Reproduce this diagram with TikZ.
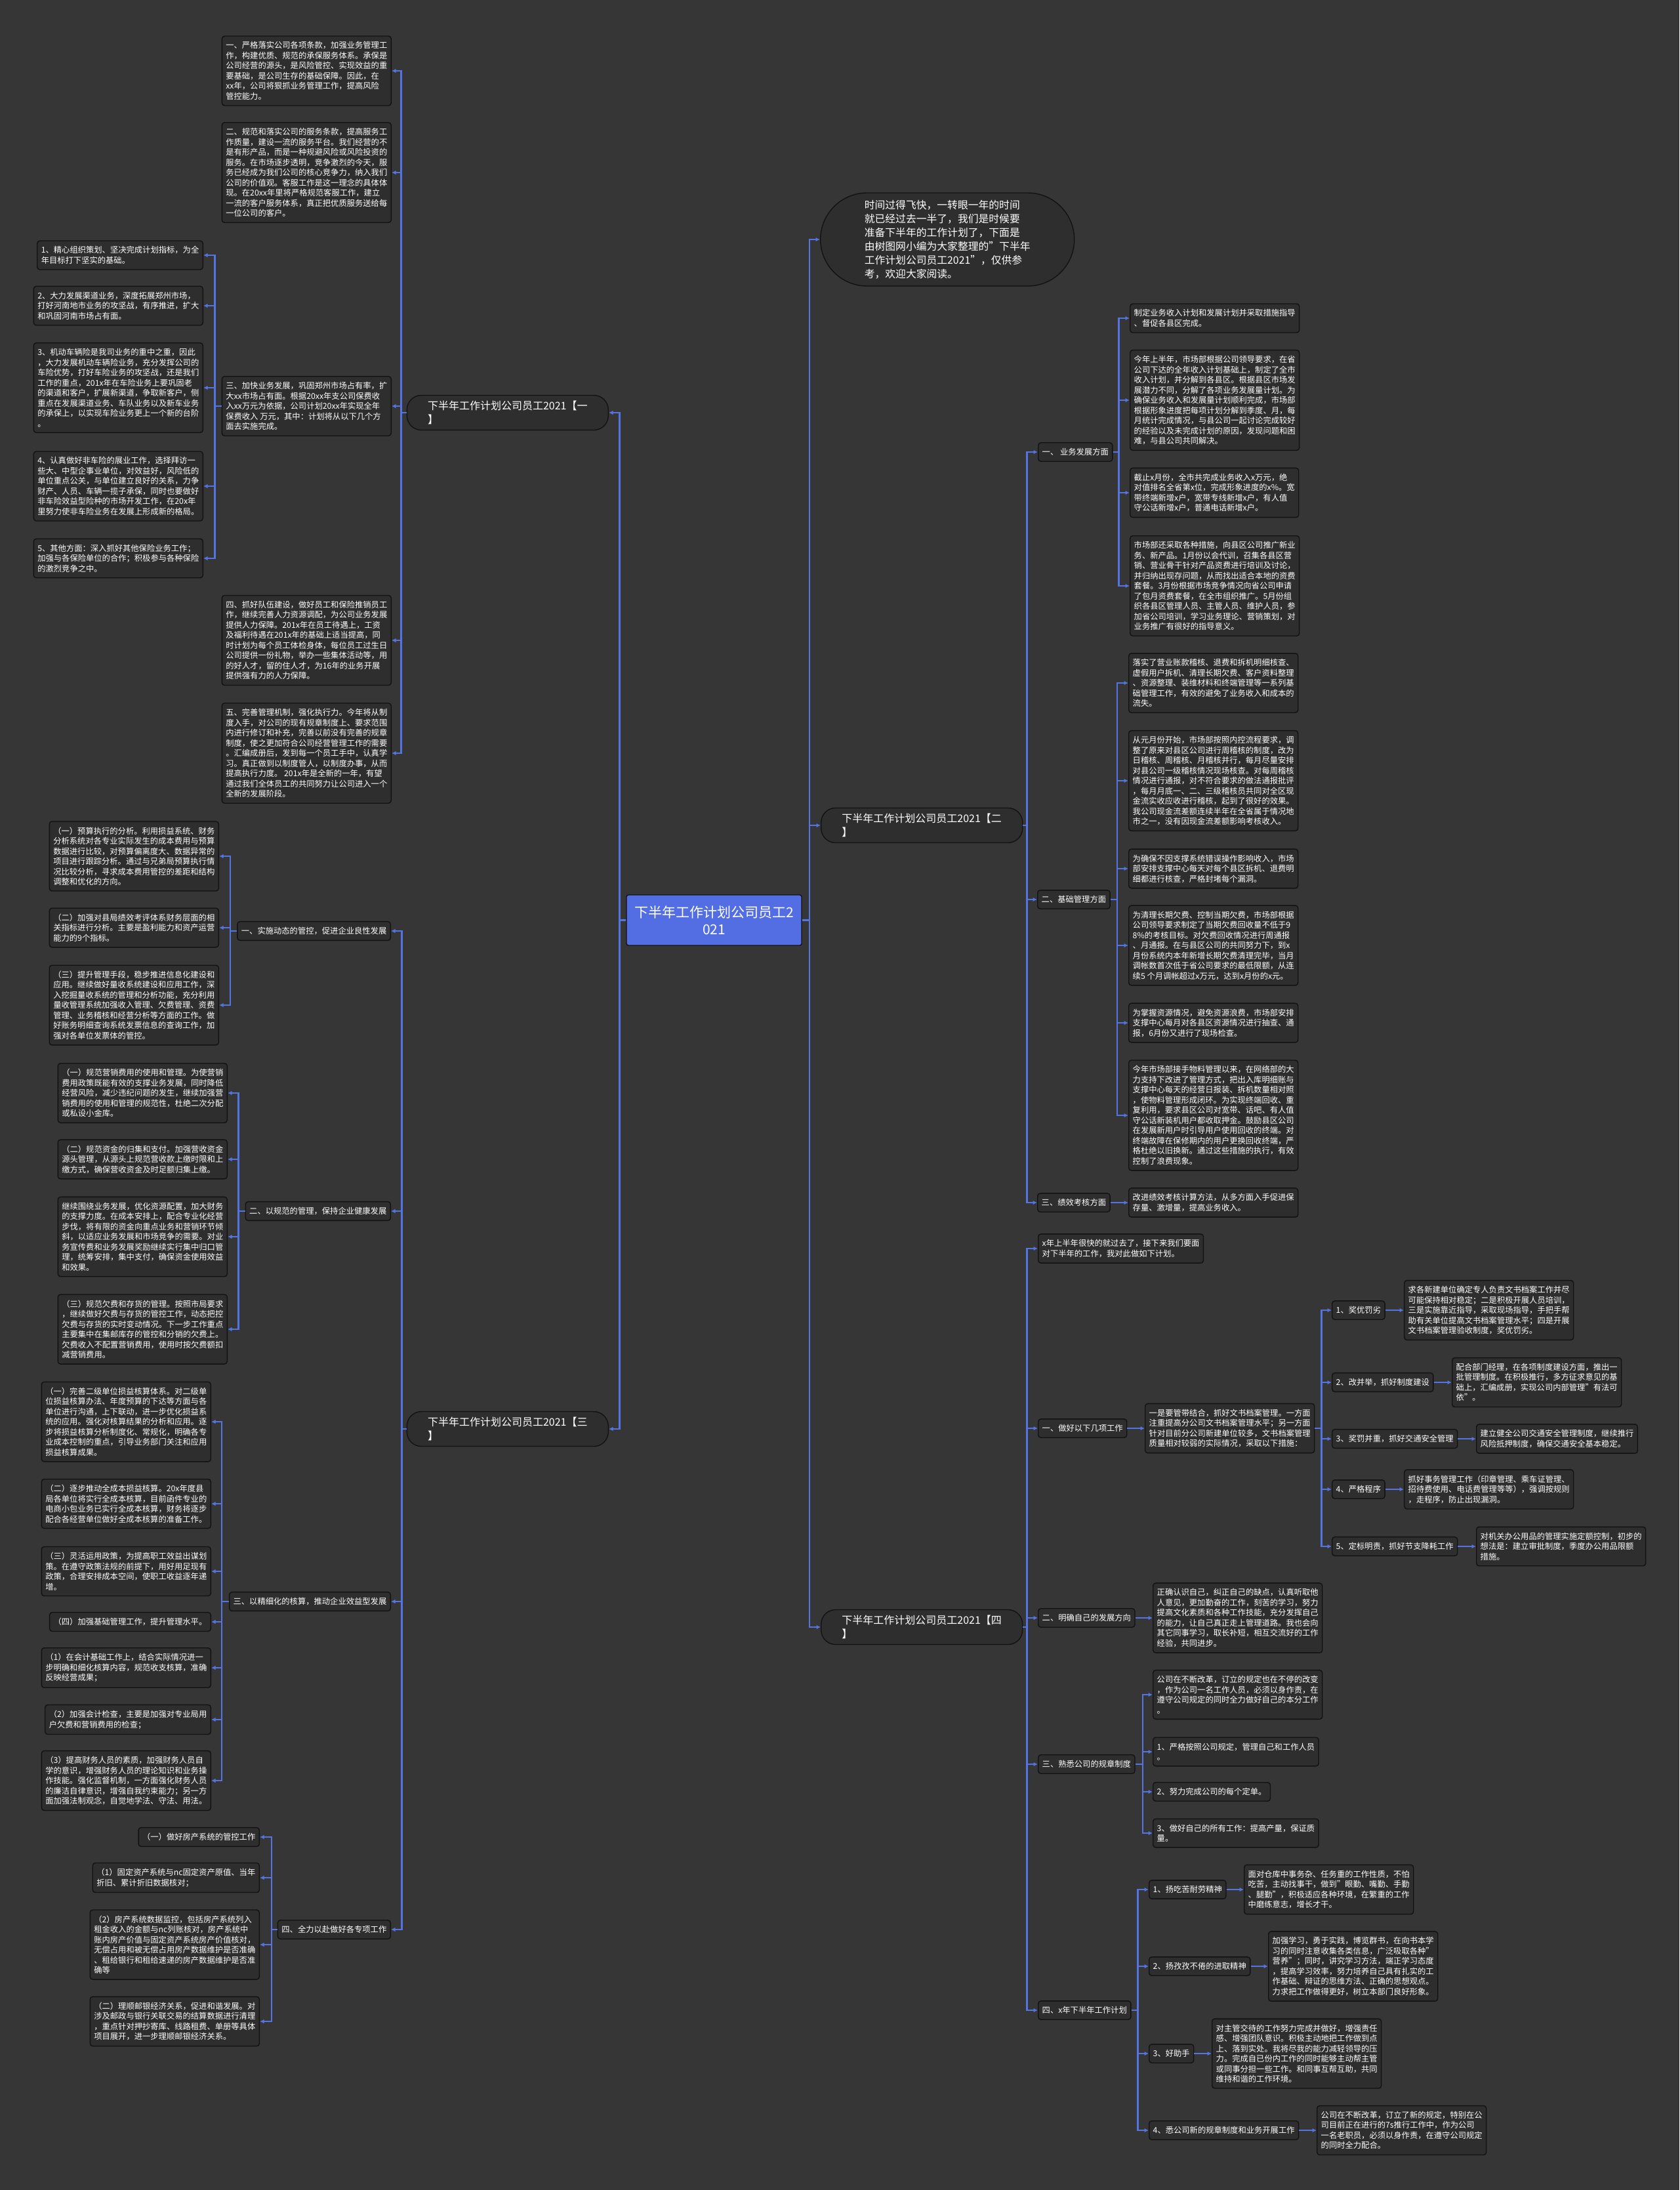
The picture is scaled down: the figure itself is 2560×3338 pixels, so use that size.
\documentclass[tikz,border=0pt]{standalone}
\usepackage{fontspec}
\setmainfont{Noto Sans CJK SC}
\usetikzlibrary{arrows.meta, positioning}

\definecolor{bgdark}{RGB}{54,54,54}
\definecolor{cardfill}{RGB}{46,46,46}
\definecolor{cardline}{RGB}{18,18,18}
\definecolor{linkblue}{RGB}{84,116,226}
\definecolor{hubblue}{RGB}{82,110,226}

\begin{document}
\begin{tikzpicture}[x=1pt, y=-1pt]
    % Define styles for the nodes
    \tikzstyle{card} = [
        rectangle, rounded corners=4pt, draw=cardline, fill=cardfill,
        line width=1.4pt, text=white, align=left,
        inner xsep=6pt, inner ysep=8.5pt,
        font=\fontsize{12.3}{15.5}\selectfont
    ]
    \tikzstyle{branch} = [
        card, rounded corners=22pt, minimum width=307pt, minimum height=53pt,
        font=\fontsize{16}{21}\selectfont
    ]
    \tikzstyle{link} = [line width=2.4pt, draw=linkblue, -{Latex[length=6.5pt,width=6.5pt]}]

    % Canvas
    \fill[bgdark] (0,0) rectangle (2560,3338);
    \useasboundingbox (0,0) rectangle (2560,3338);

    % Hub
    \node[
        rectangle, rounded corners=3pt, draw=cardline, fill=hubblue, line width=1.4pt,
        text=white, align=center, minimum width=267pt, minimum height=77pt,
        font=\fontsize{21}{26}\selectfont
    ] (hub) at (1088.5,1402.5) {下半年工作计划公司员工2\\021};

    % Intro
    \node[
        card, rounded corners=71pt, minimum width=387pt, minimum height=142pt,
        anchor=west, font=\fontsize{15.8}{21}\selectfont
    ] (intro) at (1250,365) {时间过得飞快，一转眼一年的时间\\就已经过去一半了，我们是时候要\\准备下半年的工作计划了，下面是\\由树图网小编为大家整理的"下半年\\工作计划公司员工2021"，仅供参\\考，欢迎大家阅读。};

    % Branch one
    \node[branch, anchor=east] (br1) at (928,629) {下半年工作计划公司员工2021【一\\】};

    \node[card, anchor=east] (a1) at (597,108) {一、严格落实公司各项条款，加强业务管理工\\作，构建优质、规范的承保服务体系。承保是\\公司经营的源头，是风险管控、实现效益的重\\要基础，是公司生存的基础保障。因此，在\\xx年，公司将狠抓业务管理工作，提高风险\\管控能力。};
    \node[card, anchor=east] (a2) at (597,263) {二、规范和落实公司的服务条款，提高服务工\\作质量，建设一流的服务平台。我们经营的不\\是有形产品，而是一种规避风险或风险投资的\\服务。在市场逐步透明，竞争激烈的今天，服\\务已经成为我们公司的核心竞争力，纳入我们\\公司的价值观。客服工作是这一理念的具体体\\现。在20xx年里将严格规范客服工作，建立\\一流的客户服务体系，真正把优质服务送给每\\一位公司的客户。};
    \node[card, anchor=east] (a3) at (597,619) {三、加快业务发展，巩固郑州市场占有率，扩\\大xx市场占有面。根据20xx年支公司保费收\\入xx万元为依据，公司计划20xx年实现全年\\保费收入 万元，其中：计划将从以下几个方\\面去实施完成。};
    \node[card, anchor=east] (a4) at (597,976) {四、抓好队伍建设，做好员工和保险推销员工\\作，继续完善人力资源调配，为公司业务发展\\提供人力保障。201x年在员工待遇上，工资\\及福利待遇在201x年的基础上适当提高，同\\时计划为每个员工体检身体，每位员工过生日\\公司提供一份礼物，举办一些集体活动等，用\\的好人才，留的住人才，为16年的业务开展\\提供强有力的人力保障。};
    \node[card, anchor=east] (a5) at (597,1148) {五、完善管理机制，强化执行力。今年将从制\\度入手，对公司的现有规章制度上、要求范围\\内进行修订和补充，完善以前没有完善的规章\\制度，使之更加符合公司经营管理工作的需要\\。汇编成册后，发到每一个员工手中，认真学\\习。真正做到以制度管人，以制度办事，从而\\提高执行力度。 201x年是全新的一年，有望\\通过我们全体员工的共同努力让公司进入一个\\全新的发展阶段。};

    \node[card, anchor=east] (l1) at (310,389) {1、精心组织策划、坚决完成计划指标，为全\\年目标打下坚实的基础。};
    \node[card, anchor=east] (l2) at (310,466) {2、大力发展渠道业务，深度拓展郑州市场，\\打好河南地市业务的攻坚战，有序推进，扩大\\和巩固河南市场占有面。};
    \node[card, anchor=east] (l3) at (310,591) {3、机动车辆险是我司业务的重中之重，因此\\，大力发展机动车辆险业务，充分发挥公司的\\车险优势，打好车险业务的攻坚战，还是我们\\工作的重点，201x年在车险业务上要巩固老\\的渠道和客户，扩展新渠道，争取新客户，侧\\重点在发展渠道业务、车队业务以及新车业务\\的承保上，以实现车险业务更上一个新的台阶\\。};
    \node[card, anchor=east] (l4) at (310,741) {4、认真做好非车险的展业工作，选择拜访一\\些大、中型企事业单位，对效益好，风险低的\\单位重点公关，与单位建立良好的关系，力争\\财产、人员、车辆一揽子承保，同时也要做好\\非车险效益型险种的市场开发工作，在20x年\\里努力使非车险业务在发展上形成新的格局。};
    \node[card, anchor=east] (l5) at (310,851) {5、其他方面：深入抓好其他保险业务工作；\\加强与各保险单位的合作；积极参与各种保险\\的激烈竞争之中。};

    % Branch three
    \node[branch, anchor=east] (br3) at (928,2178) {下半年工作计划公司员工2021【三\\】};

    \node[card, anchor=east] (b1) at (596,1419) {一、实施动态的管控，促进企业良性发展};
    \node[card, anchor=east] (s1) at (334,1305) {（一）预算执行的分析。利用损益系统、财务\\分析系统对各专业实际发生的成本费用与预算\\数据进行比较，对预算偏离度大、数据异常的\\项目进行跟踪分析。通过与兄弟局预算执行情\\况比较分析，寻求成本费用管控的差距和结构\\调整和优化的方向。};
    \node[card, anchor=east] (s2) at (334,1414) {（二）加强对县局绩效考评体系财务层面的相\\关指标进行分析。主要是盈利能力和资产运营\\能力的9个指标。};
    \node[card, anchor=east] (s3) at (334,1532) {（三）提升管理手段，稳步推进信息化建设和\\应用。继续做好量收系统建设和应用工作，深\\入挖掘量收系统的管理和分析功能，充分利用\\量收管理系统加强收入管理、欠费管理、资费\\管理、业务稽核和经营分析等方面的工作。做\\好账务明细查询系统发票信息的查询工作，加\\强对各单位发票体的管控。};

    \node[card, anchor=east] (b2) at (596,1846) {二、以规范的管理，保持企业健康发展};
    \node[card, anchor=east] (t1) at (347,1666) {（一）规范营销费用的使用和管理。为使营销\\费用政策既能有效的支撑业务发展，同时降低\\经营风险，减少违纪问题的发生，继续加强营\\销费用的使用和管理的规范性，杜绝二次分配\\或私设小金库。};
    \node[card, anchor=east] (t2) at (347,1767) {（二）规范资金的归集和支付。加强营收资金\\源头管理，从源头上规范营收款上缴时限和上\\缴方式，确保营收资金及时足额归集上缴。};
    \node[card, anchor=east] (t3) at (347,1885) {继续围绕业务发展，优化资源配置，加大财务\\的支撑力度。在成本安排上，配合专业化经营\\步伐，将有限的资金向重点业务和营销环节倾\\斜，以适应业务发展和市场竞争的需要。对业\\务宣传费和业务发展奖励继续实行集中归口管\\理，统筹安排，集中支付，确保资金使用效益\\和效果。};
    \node[card, anchor=east] (t4) at (347,2026) {（三）规范欠费和存货的管理。按照市局要求\\，继续做好欠费与存货的管控工作，动态把控\\欠费与存货的实时变动情况。下一步工作重点\\主要集中在集邮库存的管控和分销的欠费上。\\欠费收入不配置营销费用，使用时按欠费额扣\\减营销费用。};

    \node[card, anchor=east] (b3) at (596,2441) {三、以精细化的核算，推动企业效益型发展};
    \node[card, anchor=east] (u1) at (322,2167) {（一）完善二级单位损益核算体系。对二级单\\位损益核算办法、年度预算的下达等方面与各\\单位进行沟通，上下联动，进一步优化损益系\\统的应用。强化对核算结果的分析和应用。逐\\步将损益核算分析制度化、常规化，明确各专\\业成本控制的重点，引导业务部门关注和应用\\损益核算成果。};
    \node[card, anchor=east] (u2) at (322,2292) {（二）逐步推动全成本损益核算。20x年度县\\局各单位将实行全成本核算，目前函件专业的\\电商小包业务已实行全成本核算，财务将逐步\\配合各经营单位做好全成本核算的准备工作。};
    \node[card, anchor=east] (u3) at (322,2395) {（三）灵活运用政策，为提高职工效益出谋划\\策。在遵守政策法规的前提下，用好用足现有\\政策，合理安排成本空间，使职工收益逐年递\\增。};
    \node[card, anchor=east] (u4) at (322,2472) {（四）加强基础管理工作，提升管理水平。};
    \node[card, anchor=east] (u5) at (322,2542) {（1）在会计基础工作上，结合实际情况进一\\步明确和细化核算内容，规范收支核算，准确\\反映经营成果；};
    \node[card, anchor=east] (u6) at (322,2621) {（2）加强会计检查，主要是加强对专业局用\\户欠费和营销费用的检查；};
    \node[card, anchor=east] (u7) at (322,2714) {（3）提高财务人员的素质，加强财务人员自\\学的意识，增强财务人员的理论知识和业务操\\作技能。强化监督机制，一方面强化财务人员\\的廉洁自律意识，增强自我约束能力；另一方\\面加强法制观念，自觉地学法、守法、用法。};

    \node[card, anchor=east] (b4) at (596,2941) {四、全力以赴做好各专项工作};
    \node[card, anchor=east] (v1) at (396,2800) {（一）做好房产系统的管控工作};
    \node[card, anchor=east] (v2) at (396,2862) {（1）固定资产系统与nc固定资产原值、当年\\折旧、累计折旧数据核对；};
    \node[card, anchor=east] (v3) at (396,2964) {（2）房产系统数据监控，包括房产系统列入\\租金收入的金额与nc列账核对，房产系统中\\账内房产价值与固定资产系统房产价值核对，\\无偿占用和被无偿占用房产数据维护是否准确\\、租给银行和租给速递的房产数据维护是否准\\确等};
    \node[card, anchor=east] (v4) at (396,3081) {（二）理顺邮银经济关系，促进和谐发展。对\\涉及邮政与银行关联交易的结算数据进行清理\\，重点针对押抄寄库、线路租费、单册等具体\\项目展开，进一步理顺邮银经济关系。};

    % Branch two
    \node[branch, anchor=west] (br2) at (1251,1258) {下半年工作计划公司员工2021【二\\】};

    \node[card, anchor=west] (r1) at (1582,689) {一、 业务发展方面};
    \node[card, anchor=west] (r1a) at (1722,485) {制定业务收入计划和发展计划并采取措施指导\\、督促各县区完成。};
    \node[card, anchor=west] (r1b) at (1722,610) {今年上半年，市场部根据公司领导要求，在省\\公司下达的全年收入计划基础上，制定了全市\\收入计划，并分解到各县区。根据县区市场发\\展潜力不同，分解了各项业务发展量计划。为\\确保业务收入和发展量计划顺利完成，市场部\\根据形象进度把每项计划分解到季度、月，每\\月统计完成情况，与县公司一起讨论完成较好\\的经验以及未完成计划的原因，发现问题和困\\难，与县公司共同解决。};
    \node[card, anchor=west] (r1c) at (1722,751) {截止x月份，全市共完成业务收入x万元，绝\\对值排名全省第x位，完成形象进度的x\%。宽\\带终端新增x户，宽带专线新增x户，有人值\\守公话新增x户，普通电话新增x户。};
    \node[card, anchor=west] (r1d) at (1722,893) {市场部还采取各种措施，向县区公司推广新业\\务、新产品。1月份以会代训，召集各县区营\\销、营业骨干针对产品资费进行培训及讨论，\\并归纳出现存问题，从而找出适合本地的资费\\套餐。3月份根据市场竞争情况向省公司申请\\了包月资费套餐，在全市组织推广。5月份组\\织各县区管理人员、主管人员、维护人员，参\\加省公司培训，学习业务理论、营销策划，对\\业务推广有很好的指导意义。};

    \node[card, anchor=west] (r2) at (1581,1371) {二、基础管理方面};
    \node[card, anchor=west] (r2a) at (1720,1041) {落实了营业账款稽核、退费和拆机明细核查、\\虚假用户拆机、清理长期欠费、客户资料整理\\、资源整理、装维材料和终端管理等一系列基\\础管理工作，有效的避免了业务收入和成本的\\流失。};
    \node[card, anchor=west] (r2b) at (1720,1190) {从元月份开始，市场部按照内控流程要求，调\\整了原来对县区公司进行周稽核的制度，改为\\日稽核、周稽核、月稽核并行，每月尽量安排\\对县公司一级稽核情况现场核查。对每周稽核\\情况进行通报，对不符合要求的做法通报批评\\，每月月底一、二、三级稽核员共同对全区现\\金流实收应收进行稽核，起到了很好的效果。\\我公司现金流差额连续半年在全省属于情况地\\市之一，没有因现金流差额影响考核收入。};
    \node[card, anchor=west] (r2c) at (1720,1324) {为确保不因支撑系统错误操作影响收入，市场\\部安排支撑中心每天对每个县区拆机、退费明\\细都进行核查，严格封堵每个漏洞。};
    \node[card, anchor=west] (r2d) at (1720,1441) {为清理长期欠费、控制当期欠费，市场部根据\\公司领导要求制定了当期欠费回收量不低于9\\8\%的考核目标。对欠费回收情况进行周通报\\、月通报。在与县区公司的共同努力下，到x\\月份系统内本年新增长期欠费清理完毕，当月\\调帐数首次低于省公司要求的最低限额，从连\\续5 个月调帐超过x万元，达到x月份的x元。};
    \node[card, anchor=west] (r2e) at (1720,1559) {为掌握资源情况，避免资源浪费，市场部安排\\支撑中心每月对各县区资源情况进行抽查、通\\报，6月份又进行了现场检查。};
    \node[card, anchor=west] (r2f) at (1720,1700) {今年市场部接手物料管理以来，在网络部的大\\力支持下改进了管理方式，把出入库明细账与\\支撑中心每天的经营日报装、拆机数量相对照\\，使物料管理形成闭环。为实现终端回收、重\\复利用，要求县区公司对宽带、话吧、有人值\\守公话新装机用户都收取押金。鼓励县区公司\\在发展新用户时引导用户使用回收的终端。对\\终端故障在保修期内的用户更换回收终端，严\\格杜绝以旧换新。通过这些措施的执行，有效\\控制了浪费现象。};

    \node[card, anchor=west] (r3) at (1581,1833) {三、绩效考核方面};
    \node[card, anchor=west] (r3a) at (1720,1833) {改进绩效考核计算方法，从多方面入手促进保\\存量、激增量，提高业务收入。};

    % Branch four
    \node[branch, anchor=west] (br4) at (1251,2480) {下半年工作计划公司员工2021【四\\】};

    \node[card, anchor=west] (w0) at (1582,1903) {x年上半年很快的就过去了，接下来我们要面\\对下半年的工作，我对此做如下计划。};

    \node[card, anchor=west] (w1) at (1582,2177) {一、做好以下几项工作};
    \node[card, anchor=west] (w1a) at (1745,2177) {一是要管带结合，抓好文书档案管理。一方面\\注重提高分公司文书档案管理水平；另一方面\\针对目前分公司新建单位较多，文书档案管理\\质量相对较弱的实际情况，采取以下措施：};
    \node[card, anchor=west] (i1) at (2030,1997) {1、奖优罚劣};
    \node[card, anchor=west] (i1d) at (2140,1997) {求各新建单位确定专人负责文书档案工作并尽\\可能保持相对稳定；二是积极开展人员培训，\\三是实施靠近指导，采取现场指导，手把手帮\\助有关单位提高文书档案管理水平；四是开展\\文书档案管理验收制度，奖优罚劣。};
    \node[card, anchor=west] (i2) at (2030,2107) {2、改并举，抓好制度建设};
    \node[card, anchor=west] (i2d) at (2213,2107) {配合部门经理，在各项制度建设方面，推出一\\批管理制度。在积极推行，多方征求意见的基\\础上，汇编成册，实现公司内部管理"有法可\\依"。};
    \node[card, anchor=west] (i3) at (2030,2193) {3、奖罚并重，抓好交通安全管理};
    \node[card, anchor=west] (i3d) at (2250,2193) {建立健全公司交通安全管理制度，继续推行\\风险抵押制度，确保交通安全基本稳定。};
    \node[card, anchor=west] (i4) at (2030,2270) {4、严格程序};
    \node[card, anchor=west] (i4d) at (2140,2270) {抓好事务管理工作（印章管理、乘车证管理、\\招待费使用、电话费管理等等），强调按规则\\，走程序，防止出现漏洞。};
    \node[card, anchor=west] (i5) at (2030,2357) {5、定标明责，抓好节支降耗工作};
    \node[card, anchor=west] (i5d) at (2250,2357) {对机关办公用品的管理实施定额控制，初步的\\想法是：建立审批制度，季度办公用品限额\\措施。};

    \node[card, anchor=west] (w2) at (1582,2466) {二、明确自己的发展方向};
    \node[card, anchor=west] (w2a) at (1757,2466) {正确认识自己，纠正自己的缺点，认真听取他\\人意见，更加勤奋的工作，刻苦的学习，努力\\提高文化素质和各种工作技能，充分发挥自己\\的能力，让自己真正走上管理道路。我也会向\\其它同事学习，取长补短，相互交流好的工作\\经验，共同进步。};

    \node[card, anchor=west] (w3) at (1582,2689) {三、熟悉公司的规章制度};
    \node[card, anchor=west] (w3a) at (1757,2583) {公司在不断改革，订立的规定也在不停的改变\\，作为公司一名工作人员，必须以身作责，在\\遵守公司规定的同时全力做好自己的本分工作\\。};
    \node[card, anchor=west] (w3b) at (1757,2670) {1、严格按照公司规定，管理自己和工作人员\\。};
    \node[card, anchor=west] (w3c) at (1757,2731) {2、努力完成公司的每个定单。};
    \node[card, anchor=west] (w3d) at (1757,2794) {3、做好自己的所有工作：提高产量，保证质\\量。};

    \node[card, anchor=west] (w4) at (1582,3064) {四、x年下半年工作计划};
    \node[card, anchor=west] (j1) at (1751,2880) {1、扬吃苦耐劳精神};
    \node[card, anchor=west] (j1d) at (1896,2880) {面对仓库中事务杂、任务重的工作性质，不怕\\吃苦，主动找事干，做到"眼勤、嘴勤、手勤\\、腿勤"，积极适应各种环境，在繁重的工作\\中磨练意志，增长才干。};
    \node[card, anchor=west] (j2) at (1751,2997) {2、扬孜孜不倦的进取精神};
    \node[card, anchor=west] (j2d) at (1933,2997) {加强学习，勇于实践，博览群书，在向书本学\\习的同时注意收集各类信息，广泛吸取各种"\\营养"；同时，讲究学习方法，端正学习态度\\，提高学习效率，努力培养自己具有扎实的工\\作基础、辩证的思维方法、正确的思想观点。\\力求把工作做得更好，树立本部门良好形象。};
    \node[card, anchor=west] (j3) at (1751,3130) {3、好助手};
    \node[card, anchor=west] (j3d) at (1847,3130) {对主管交待的工作努力完成并做好，增强责任\\感、增强团队意识。积极主动地把工作做到点\\上、落到实处。我将尽我的能力减轻领导的压\\力。完成自已份内工作的同时能够主动帮主管\\或同事分担一些工作。和同事互帮互助，共同\\维持和谐的工作环境。};
    \node[card, anchor=west] (j4) at (1751,3247) {4、悉公司新的规章制度和业务开展工作};
    \node[card, anchor=west] (j4d) at (2007,3247) {公司在不断改革，订立了新的规定，特别在公\\司目前正在进行的7s推行工作中，作为公司\\一名老职员，必须以身作责，在遵守公司规定\\的同时全力配合。};

    % Links from hub
    \draw[link] (hub.west) -- ++(-10,0) |- (br1.east);
    \draw[link] (hub.west) -- ++(-10,0) |- (br3.east);
    \draw[link] (hub.east) -- ++(11,0) |- (intro.west);
    \draw[link] (hub.east) -- ++(11,0) |- (br2.west);
    \draw[link] (hub.east) -- ++(11,0) |- (br4.west);

    % Links branch one
    \draw[link] (br1.west) -- ++(-8,0) |- (a1.east);
    \draw[link] (br1.west) -- ++(-8,0) |- (a2.east);
    \draw[link] (br1.west) -- ++(-8,0) |- (a3.east);
    \draw[link] (br1.west) -- ++(-8,0) |- (a4.east);
    \draw[link] (br1.west) -- ++(-8,0) |- (a5.east);
    \draw[link] (a3.west) -- ++(-10,0) |- (l1.east);
    \draw[link] (a3.west) -- ++(-10,0) |- (l2.east);
    \draw[link] (a3.west) -- ++(-10,0) |- (l3.east);
    \draw[link] (a3.west) -- ++(-10,0) |- (l4.east);
    \draw[link] (a3.west) -- ++(-10,0) |- (l5.east);

    % Links branch three
    \draw[link] (br3.west) -- ++(-7,0) |- (b1.east);
    \draw[link] (br3.west) -- ++(-7,0) |- (b2.east);
    \draw[link] (br3.west) -- ++(-7,0) |- (b3.east);
    \draw[link] (br3.west) -- ++(-7,0) |- (b4.east);
    \draw[link] (b1.west) -- ++(-10,0) |- (s1.east);
    \draw[link] (b1.west) -- ++(-10,0) |- (s2.east);
    \draw[link] (b1.west) -- ++(-10,0) |- (s3.east);
    \draw[link] (b2.west) -- ++(-10,0) |- (t1.east);
    \draw[link] (b2.west) -- ++(-10,0) |- (t2.east);
    \draw[link] (b2.west) -- ++(-10,0) |- (t3.east);
    \draw[link] (b2.west) -- ++(-10,0) |- (t4.east);
    \draw[link] (b3.west) -- ++(-11,0) |- (u1.east);
    \draw[link] (b3.west) -- ++(-11,0) |- (u2.east);
    \draw[link] (b3.west) -- ++(-11,0) |- (u3.east);
    \draw[link] (b3.west) -- ++(-11,0) |- (u4.east);
    \draw[link] (b3.west) -- ++(-11,0) |- (u5.east);
    \draw[link] (b3.west) -- ++(-11,0) |- (u6.east);
    \draw[link] (b3.west) -- ++(-11,0) |- (u7.east);
    \draw[link] (b4.west) -- ++(-9,0) |- (v1.east);
    \draw[link] (b4.west) -- ++(-9,0) |- (v2.east);
    \draw[link] (b4.west) -- ++(-9,0) |- (v3.east);
    \draw[link] (b4.west) -- ++(-9,0) |- (v4.east);

    % Links branch two
    \draw[link] (br2.east) -- ++(6,0) |- (r1.west);
    \draw[link] (br2.east) -- ++(6,0) |- (r2.west);
    \draw[link] (br2.east) -- ++(6,0) |- (r3.west);
    \draw[link] (r1.east) -- ++(9,0) |- (r1a.west);
    \draw[link] (r1.east) -- ++(9,0) |- (r1b.west);
    \draw[link] (r1.east) -- ++(9,0) |- (r1c.west);
    \draw[link] (r1.east) -- ++(9,0) |- (r1d.west);
    \draw[link] (r2.east) -- ++(10,0) |- (r2a.west);
    \draw[link] (r2.east) -- ++(10,0) |- (r2b.west);
    \draw[link] (r2.east) -- ++(10,0) |- (r2c.west);
    \draw[link] (r2.east) -- ++(10,0) |- (r2d.west);
    \draw[link] (r2.east) -- ++(10,0) |- (r2e.west);
    \draw[link] (r2.east) -- ++(10,0) |- (r2f.west);
    \draw[link] (r3.east) -- (r3a.west);

    % Links branch four
    \draw[link] (br4.east) -- ++(6,0) |- (w0.west);
    \draw[link] (br4.east) -- ++(6,0) |- (w1.west);
    \draw[link] (br4.east) -- ++(6,0) |- (w2.west);
    \draw[link] (br4.east) -- ++(6,0) |- (w3.west);
    \draw[link] (br4.east) -- ++(6,0) |- (w4.west);
    \draw[link] (w1.east) -- (w1a.west);
    \draw[link] (w1a.east) -- ++(10,0) |- (i1.west);
    \draw[link] (w1a.east) -- ++(10,0) |- (i2.west);
    \draw[link] (w1a.east) -- ++(10,0) |- (i3.west);
    \draw[link] (w1a.east) -- ++(10,0) |- (i4.west);
    \draw[link] (w1a.east) -- ++(10,0) |- (i5.west);
    \draw[link] (i1.east) -- (i1d.west);
    \draw[link] (i2.east) -- (i2d.west);
    \draw[link] (i3.east) -- (i3d.west);
    \draw[link] (i4.east) -- (i4d.west);
    \draw[link] (i5.east) -- (i5d.west);
    \draw[link] (w2.east) -- (w2a.west);
    \draw[link] (w3.east) -- ++(11,0) |- (w3a.west);
    \draw[link] (w3.east) -- ++(11,0) |- (w3b.west);
    \draw[link] (w3.east) -- ++(11,0) |- (w3c.west);
    \draw[link] (w3.east) -- ++(11,0) |- (w3d.west);
    \draw[link] (w4.east) -- ++(10,0) |- (j1.west);
    \draw[link] (w4.east) -- ++(10,0) |- (j2.west);
    \draw[link] (w4.east) -- ++(10,0) |- (j3.west);
    \draw[link] (w4.east) -- ++(10,0) |- (j4.west);
    \draw[link] (j1.east) -- (j1d.west);
    \draw[link] (j2.east) -- (j2d.west);
    \draw[link] (j3.east) -- (j3d.west);
    \draw[link] (j4.east) -- (j4d.west);

\end{tikzpicture}
\end{document}
